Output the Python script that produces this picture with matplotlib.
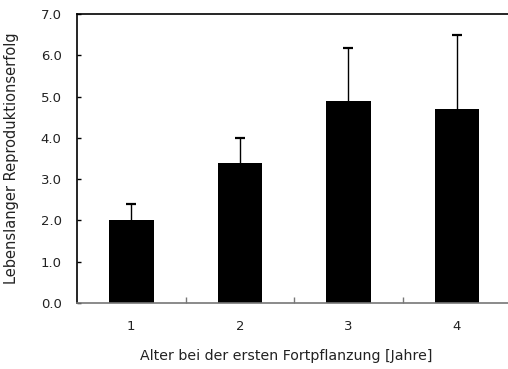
import numpy as np
from matplotlib import pyplot as plt

# Daten
alter = ['1', '2', '3', '4']
erfolg = [2.0, 3.38, 4.89, 4.71]
fehler = [0.39, 0.62, 1.29, 1.77]

plt.rcParams['font.family'] = ['DejaVu Sans']

fig = plt.figure(figsize=(5.08, 3.69), dpi=100)
ax = fig.add_axes([0.1516, 0.179, 0.855, 0.783])

x = np.arange(len(alter))
oben = np.array(erfolg) + np.array(fehler)
ax.bar(x, erfolg, width=0.41, color='black', zorder=2)
# nur obere Fehlerbalken
ax.vlines(x, erfolg, oben, color='black', linewidth=1.0, zorder=1)
ax.plot(x, oben, linestyle='none', marker='_', markersize=6.5,
        markeredgewidth=1.6, color='black', zorder=1)

ax.set_xlim(-0.5, len(alter) - 0.5)
ax.set_ylim(0, 7)
ax.set_yticks(np.arange(0, 7.1, 1))
ax.set_yticklabels(['%.1f' % v for v in np.arange(0, 7.1, 1)])
ax.set_xticks(x)
ax.set_xticklabels(alter)
ax.set_xticks(np.arange(0.5, len(alter) - 0.5, 1), minor=True)

ax.tick_params(axis='y', direction='in', length=3, width=1, labelsize=9.5,
               pad=11, labelcolor='#222222')
ax.tick_params(axis='x', which='major', length=0, labelsize=9.5, pad=12,
               labelcolor='#222222')
ax.tick_params(axis='x', which='minor', direction='in', length=4, width=1, color='#777777')

for s in ['top', 'left', 'right']:
    ax.spines[s].set_linewidth(1.2)
    ax.spines[s].set_color('black')
ax.spines['bottom'].set_color('#777777')
ax.spines['bottom'].set_linewidth(1.2)

ax.set_xlabel('Alter bei der ersten Fortpflanzung [Jahre]', fontsize=10.2,
              color='#222222')
ax.xaxis.set_label_coords(0.482, -0.158)
ax.set_ylabel('Lebenslanger Reproduktionserfolg', fontsize=10.5,
              labelpad=16, color='#222222')

fig.savefig('out.png', dpi=100)
